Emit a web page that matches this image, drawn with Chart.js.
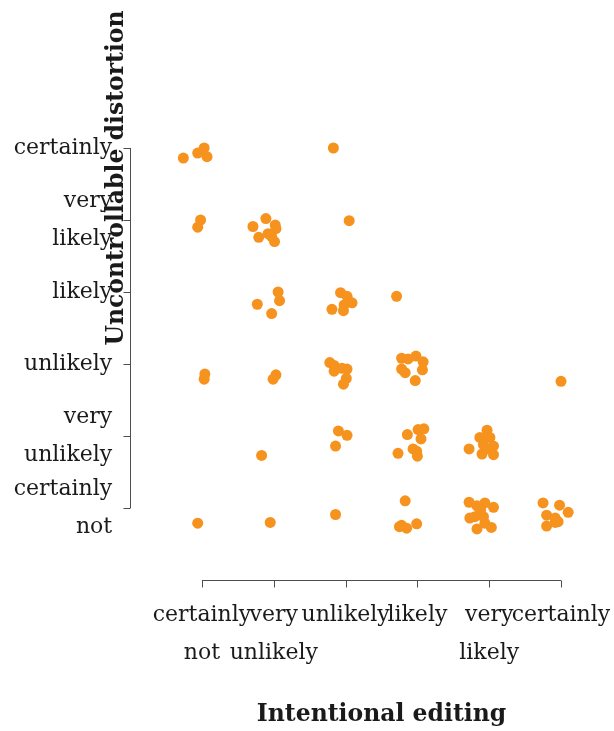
<!DOCTYPE html>
<html>
<head>
<meta charset="utf-8">
<script src="https://cdn.jsdelivr.net/npm/chart.js@4/dist/chart.umd.min.js"></script>
<style>
  html, body { margin: 0; padding: 0; background: #ffffff; }
  #wrap { width: 614px; height: 731px; }
</style>
</head>
<body>
<div id="wrap"><canvas id="chart" width="614" height="731"></canvas></div>
<script>
// Ordinal answer scale, 1 = "certainly not" ... 6 = "certainly"
const levels = [1, 2, 3, 4, 5, 6];
const levelLabels = [
  ["certainly", "not"],
  ["very", "unlikely"],
  ["unlikely"],
  ["likely"],
  ["very", "likely"],
  ["certainly"]
];

// Jittered responses: intentional editing (x) vs uncontrollable distortion (y)
const editing = [
  0.74, 0.94, 1.03, 1.07,
  2.83,
  0.98, 0.94,
  1.71, 1.89, 2.02, 2.03, 1.92, 1.79, 2.01, 1.97,
  3.05,
  1.77, 2.06, 2.08, 1.97,
  2.93, 3.02, 3.09, 2.98, 2.81, 2.97,
  3.71,
  1.04, 1.03,
  2.03, 1.99,
  2.78, 2.84, 2.95, 3.02, 2.84, 3.01, 2.97,
  3.78, 3.87, 3.98, 4.08, 4.07, 3.78, 3.83, 3.97,
  6.00,
  1.83,
  2.90, 3.02, 2.86,
  3.86, 4.01, 4.09, 4.05, 3.73, 3.94, 3.99, 4.00,
  4.72, 4.97, 4.87, 5.01, 4.92, 5.06, 4.90, 5.06, 4.96,
  0.94,
  1.95,
  2.86,
  3.83, 3.78, 3.85, 3.99, 3.75,
  4.72, 4.83, 4.94, 5.06, 4.73, 4.80, 4.92, 4.94, 4.83, 5.03, 4.88,
  5.75, 5.98, 6.10, 5.80, 5.92, 5.96, 5.80, 5.92
];
const distortion = [
  5.86, 5.93, 6.00, 5.88,
  6.00,
  5.00, 4.90,
  4.91, 5.02, 4.93, 4.88, 4.81, 4.76, 4.70, 4.77,
  4.99,
  3.83, 4.00, 3.88, 3.70,
  3.99, 3.94, 3.85, 3.82, 3.76, 3.74,
  3.94,
  2.86, 2.79,
  2.85, 2.79,
  3.02, 2.98, 2.94, 2.93, 2.90, 2.80, 2.72,
  3.08, 3.07, 3.11, 3.03, 2.92, 2.93, 2.88, 2.77,
  2.76,
  1.73,
  2.07, 2.01, 1.86,
  2.02, 2.09, 2.10, 1.96, 1.76, 1.82, 1.79, 1.72,
  1.82, 2.08, 1.98, 1.98, 1.88, 1.86, 1.75, 1.74, 1.82,
  0.79,
  0.80,
  0.91,
  1.10, 0.76, 0.72, 0.78, 0.74,
  1.08, 1.03, 1.07, 1.01, 0.86, 0.88, 0.88, 0.79, 0.71, 0.73, 0.97,
  1.07, 1.04, 0.94, 0.90, 0.86, 0.81, 0.75, 0.80
];

const xTitle = "Intentional editing";
const yTitle = "Uncontrollable distortion";

const points = editing.map((x, i) => ({ x: x, y: distortion[i] }));

const FONT = '"DejaVu Serif", serif';
const TICK_SIZE = 22;
const TITLE_SIZE = 23.5;
const AXIS_COLOR = '#4d4d4d';
const TEXT_COLOR = '#1a1a1a';
const LINE_GAP = 38;

// Detached axes drawn only over the 1..6 range, with outward ticks
const detachedAxes = {
  id: 'detachedAxes',
  afterDraw(chart) {
    const { ctx, scales } = chart;
    const xs = scales.x, ys = scales.y;
    const axisX = xs.getPixelForValue(0);
    const axisY = ys.getPixelForValue(0);
    const tickLen = 7;
    const lo = levels[0], hi = levels[levels.length - 1];

    ctx.save();
    ctx.strokeStyle = AXIS_COLOR;
    ctx.lineWidth = 1;

    // y axis
    ctx.beginPath();
    ctx.moveTo(Math.round(axisX) + 0.5, ys.getPixelForValue(lo));
    ctx.lineTo(Math.round(axisX) + 0.5, ys.getPixelForValue(hi));
    levels.forEach(v => {
      const py = Math.round(ys.getPixelForValue(v)) + 0.5;
      ctx.moveTo(Math.round(axisX) + 0.5, py);
      ctx.lineTo(Math.round(axisX) + 0.5 - tickLen, py);
    });
    // x axis
    ctx.moveTo(xs.getPixelForValue(lo), Math.round(axisY) + 0.5);
    ctx.lineTo(xs.getPixelForValue(hi), Math.round(axisY) + 0.5);
    levels.forEach(v => {
      const px = Math.round(xs.getPixelForValue(v)) + 0.5;
      ctx.moveTo(px, Math.round(axisY) + 0.5);
      ctx.lineTo(px, Math.round(axisY) + 0.5 + tickLen);
    });
    ctx.stroke();

    ctx.fillStyle = TEXT_COLOR;
    ctx.font = TICK_SIZE + 'px ' + FONT;
    ctx.textBaseline = 'middle';

    // y tick labels, right aligned, multi-line centred on the tick
    ctx.textAlign = 'right';
    levels.forEach((v, i) => {
      const lines = levelLabels[i];
      const cy = ys.getPixelForValue(v);
      lines.forEach((t, k) => {
        const off = (k - (lines.length - 1) / 2) * LINE_GAP;
        ctx.fillText(t, axisX - 18, cy + off);
      });
    });

    // x tick labels, centred under each tick
    ctx.textAlign = 'center';
    levels.forEach((v, i) => {
      const lines = levelLabels[i];
      const cx = xs.getPixelForValue(v);
      lines.forEach((t, k) => {
        ctx.fillText(t, cx, axisY + 35 + k * LINE_GAP);
      });
    });

    // axis titles
    ctx.font = 'bold ' + TITLE_SIZE + 'px ' + FONT;
    ctx.textAlign = 'center';
    const midX = (xs.getPixelForValue(lo) + xs.getPixelForValue(hi)) / 2;
    ctx.fillText(xTitle, midX, axisY + 135);

    ctx.translate(axisX - 13, 178);
    ctx.rotate(-Math.PI / 2);
    ctx.fillText(yTitle, 0, 0);
    ctx.restore();
  }
};

new Chart(document.getElementById('chart'), {
  type: 'scatter',
  data: {
    datasets: [{
      data: points,
      backgroundColor: '#f6921e',
      borderWidth: 0,
      pointRadius: 5.5,
      pointHoverRadius: 5.5
    }]
  },
  options: {
    responsive: false,
    animation: false,
    layout: { padding: { left: 160, right: 10, top: 120, bottom: 171 } },
    plugins: {
      legend: { display: false },
      tooltip: { enabled: false }
    },
    scales: {
      x: { type: 'linear', min: 0.415, max: 6.599, display: false },
      y: { type: 'linear', min: 0.278, max: 6.389, display: false }
    }
  },
  plugins: [detachedAxes]
});
</script>
</body>
</html>
